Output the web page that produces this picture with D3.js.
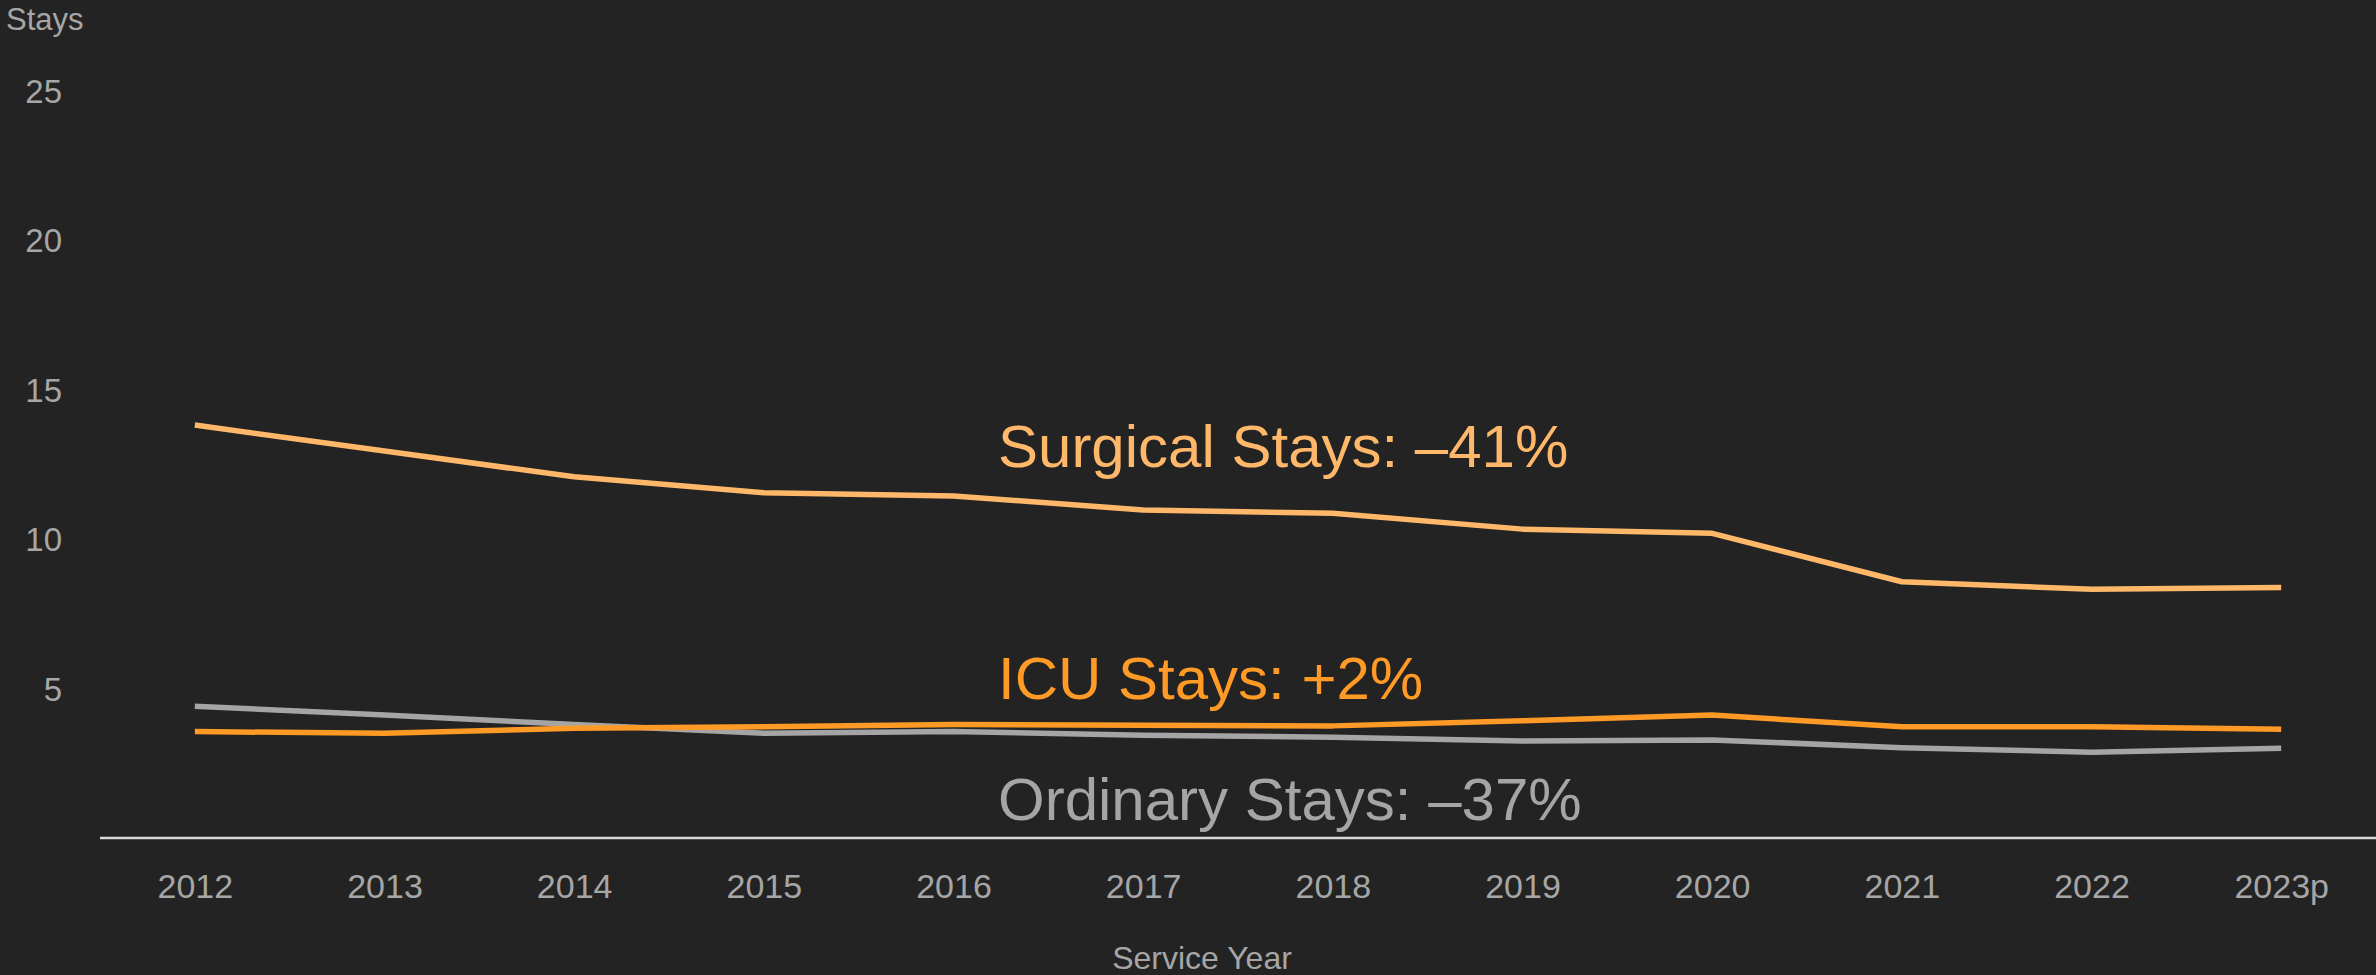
<!DOCTYPE html>
<html>
<head>
<meta charset="utf-8">
<script src="https://cdn.jsdelivr.net/npm/d3@7"></script>
<style>
  html, body { margin: 0; padding: 0; background: #232323; }
  svg { display: block; }
  text { font-family: "Liberation Sans", Arial, sans-serif; }
</style>
</head>
<body>
<svg id="chart" width="2376" height="975"></svg>
<script>
// Service years shown on the category axis
const years = ["2012", "2013", "2014", "2015", "2016", "2017", "2018", "2019", "2020", "2021", "2022", "2023p"];

// Stays per year, by stay type
const surgicalStays = [13.81, 12.94, 12.08, 11.55, 11.44, 10.97, 10.86, 10.33, 10.19, 8.57, 8.32, 8.38];
const icuStays      = [3.56, 3.50, 3.67, 3.72, 3.80, 3.77, 3.75, 3.92, 4.11, 3.72, 3.72, 3.64];
const ordinaryStays = [4.41, 4.11, 3.80, 3.50, 3.56, 3.44, 3.37, 3.24, 3.28, 3.02, 2.87, 3.00];

// Y-axis tick values
const yTicks = [5, 10, 15, 20, 25];

// Series annotations
const seriesLabels = ["Surgical Stays: \u201341%", "ICU Stays: +2%", "Ordinary Stays: \u201337%"];

const W = 2376, H = 975;
const svg = d3.select("#chart");

svg.append("rect").attr("width", W).attr("height", H).attr("fill", "#232323");

const x = d3.scalePoint().domain(years).range([100, 2376]).padding(0.5);
const y = d3.scaleLinear().domain([0, 25]).range([838, 90.5]);

// Y tick labels (no gridlines, no tick marks)
const yAxis = d3.axisLeft(y).tickValues(yTicks).tickSize(0).tickPadding(0);
const gy = svg.append("g").attr("transform", "translate(62,0)").call(yAxis);
gy.select(".domain").remove();
gy.selectAll("text")
  .attr("fill", "#a6a6a6")
  .attr("font-size", 33)
  .attr("dy", "0.35em")
  .attr("font-family", "Liberation Sans, Arial, sans-serif");

// X axis: baseline plus year labels
const xAxis = d3.axisBottom(x).tickSize(0).tickPadding(0);
const gx = svg.append("g").attr("transform", `translate(0,${y(0)})`).call(xAxis);
gx.select(".domain").remove();
gx.selectAll("text")
  .attr("fill", "#a6a6a6")
  .attr("font-size", 34)
  .attr("dy", 0)
  .attr("y", 60)
  .attr("font-family", "Liberation Sans, Arial, sans-serif");

svg.append("line")
  .attr("x1", 100).attr("x2", W)
  .attr("y1", y(0)).attr("y2", y(0))
  .attr("stroke", "#d9d9d9")
  .attr("stroke-width", 2.3);

// Axis titles
svg.append("text")
  .attr("x", 6).attr("y", 30)
  .attr("fill", "#a6a6a6")
  .attr("font-size", 31)
  .text("Stays");

svg.append("text")
  .attr("x", 1202).attr("y", 969)
  .attr("text-anchor", "middle")
  .attr("fill", "#a6a6a6")
  .attr("font-size", 32)
  .text("Service Year");

// Lines
const line = d3.line()
  .x((d, i) => x(years[i]))
  .y(d => y(d));

const series = [
  { values: ordinaryStays, color: "#a5a5a5" },
  { values: icuStays, color: "#ff9a26" },
  { values: surgicalStays, color: "#ffb86a" }
];

svg.append("g").selectAll("path")
  .data(series)
  .join("path")
  .attr("d", d => line(d.values))
  .attr("fill", "none")
  .attr("stroke", d => d.color)
  .attr("stroke-width", 5.5)
  .attr("stroke-linejoin", "round");

// Inline series labels
const labelSpecs = [
  { text: seriesLabels[0], color: "#ffb86a", baseline: 467 },
  { text: seriesLabels[1], color: "#ff9a26", baseline: 699 },
  { text: seriesLabels[2], color: "#a5a5a5", baseline: 820 }
];

svg.append("g").selectAll("text")
  .data(labelSpecs)
  .join("text")
  .attr("x", 998)
  .attr("y", d => d.baseline)
  .attr("fill", d => d.color)
  .attr("font-size", 60)
  .text(d => d.text);
</script>
</body>
</html>
